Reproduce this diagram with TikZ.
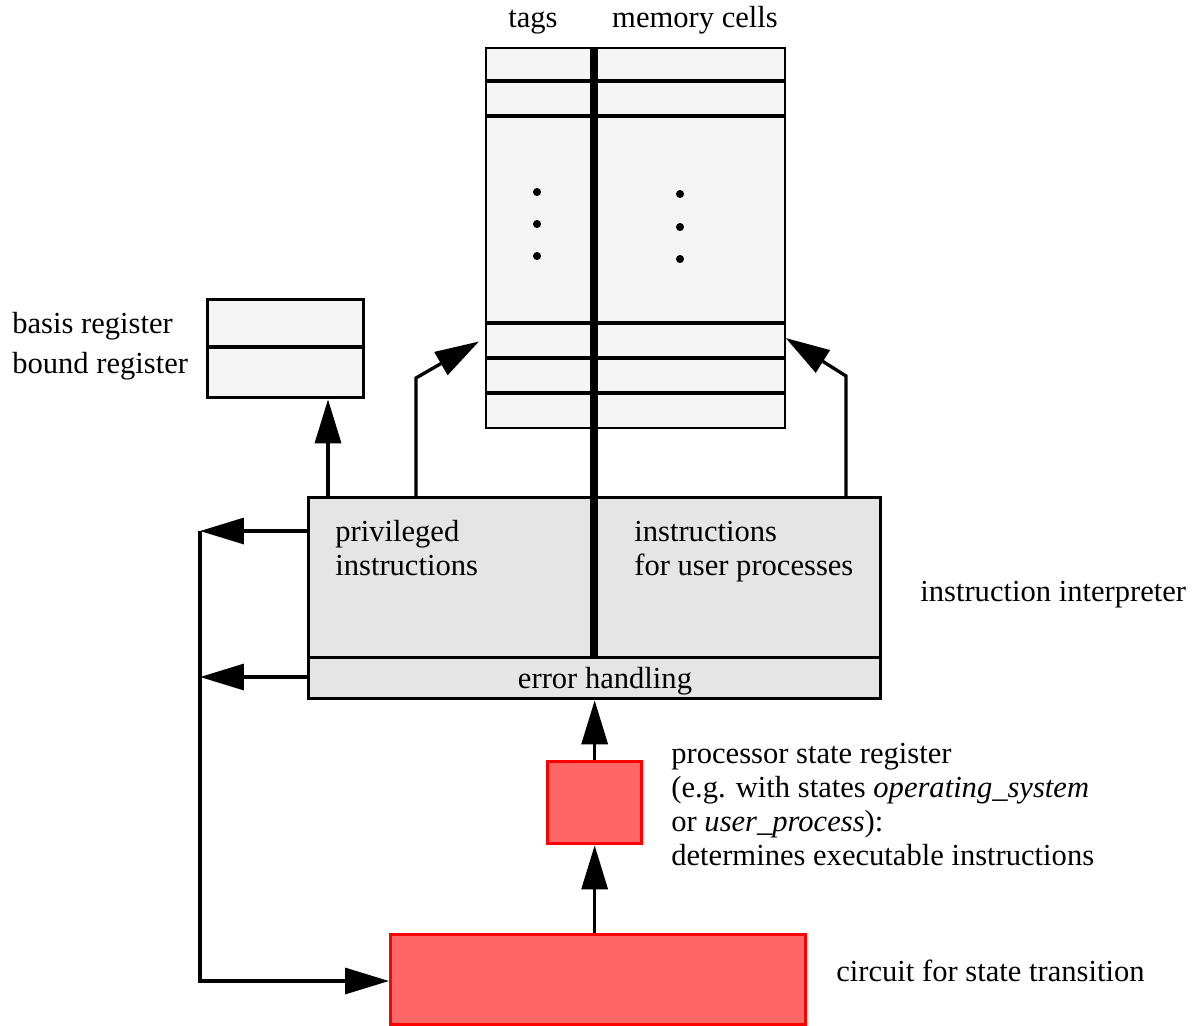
\documentclass[tikz,border=0pt]{standalone}
\usepackage{fontspec}
\setmainfont{Liberation Serif}
\usetikzlibrary{arrows.meta,positioning}

\begin{document}
\begin{tikzpicture}[
  x=0.02cm,y=-0.02cm,
  font=\fontsize{17.4}{19.3}\selectfont,
  unit/.style={draw,line width=1.9pt,anchor=north west,inner sep=0pt},
  store/.style={draw,line width=1pt,fill=black!4,anchor=north west,inner sep=0pt},
  active/.style={unit,draw=red,fill=red!60},
  label/.style={anchor=base west,inner sep=0pt,align=left},
  wire/.style={line width=1.9pt},
  flow/.style={wire,-{Triangle[length=0.88cm,width=0.52cm]}}
]
  \useasboundingbox (0,0) rectangle (1192,1025);

  % boxes
  \node[store,minimum width=5.98cm,minimum height=7.6cm] (memory) at (485,47) {};
  \node[unit,fill=black!4,minimum width=3.12cm,minimum height=1.96cm] (regs) at (206,298) {};
  \node[unit,fill=black!10,minimum width=11.44cm,minimum height=3.2cm] (interp) at (307,496) {};
  \node[unit,fill=black!10,minimum width=11.44cm,minimum height=0.82cm] (errh) at (307,656) {};
  \node[active,minimum width=1.88cm,minimum height=1.64cm] (state) at (546,760) {};
  \node[active,minimum width=8.3cm,minimum height=1.8cm] (circuit) at (389,933) {};

  % memory rows and tag column
  \foreach \y in {81,116,323,358,393}
    \draw[line width=2.1pt] (memory.west |- 0,\y) -- (memory.east |- 0,\y);
  \draw[line width=5pt] (memory.north -| 594,0) -- (interp.south -| 594,0);
  \draw[wire] (regs.west |- 0,347) -- (regs.east |- 0,347);
  \foreach \y in {192,224,256}
    \fill (537,\y) circle (2.3pt);
  \foreach \y in {194,227,259}
    \fill (680,\y) circle (2.3pt);

  % texts
  \node[anchor=base] (tagtext) at (533,27) {tags};
  \node[anchor=base] (celltext) at (695,27) {memory cells};
  \node[label] (basistext) at (12,333) {basis register};
  \node[label] (boundtext) at (12,373) {bound register};
  \node[label] (privtext) at (335,575) {privileged\\instructions};
  \node[label] (usertext) at (634,575) {instructions\\for user processes};
  \node[anchor=base] (errtext) at (605,688) {error handling};
  \node[label] (interptext) at (920,601) {instruction interpreter};
  \node[label] (statetext) at (671,865) {processor state register\\
    (e.g. with states \textit{operating\_system}\\
    or \textit{user\_process}):\\
    determines executable instructions};
  \node[label] (circtext) at (836,981) {circuit for state transition};

  % connectors
  \coordinate (busA) at (200,531);
  \coordinate (busB) at (200,677);
  \coordinate (busC) at (200,981);
  \draw[flow] (interp.north -| 328,0) -- (regs.south -| 328,0);
  \draw[flow,shorten >=0.14cm] (interp.north -| 416,0) -- (416,378) -- (memory.west |- 0,338);
  \draw[flow] (interp.north -| 846,0) -- (846,376) -- (memory.east |- 0,338);
  \draw[flow] (interp.west |- busA) -- (busA);
  \draw[flow] (errh.west |- busB) -- (busB);
  \draw[flow] (busA) -- (busC) -- (circuit.west |- busC);
  \draw[flow] (state.north) -- (errh.south -| state.north);
  \draw[flow] (circuit.north -| state.south) -- (state.south);
\end{tikzpicture}
\end{document}
